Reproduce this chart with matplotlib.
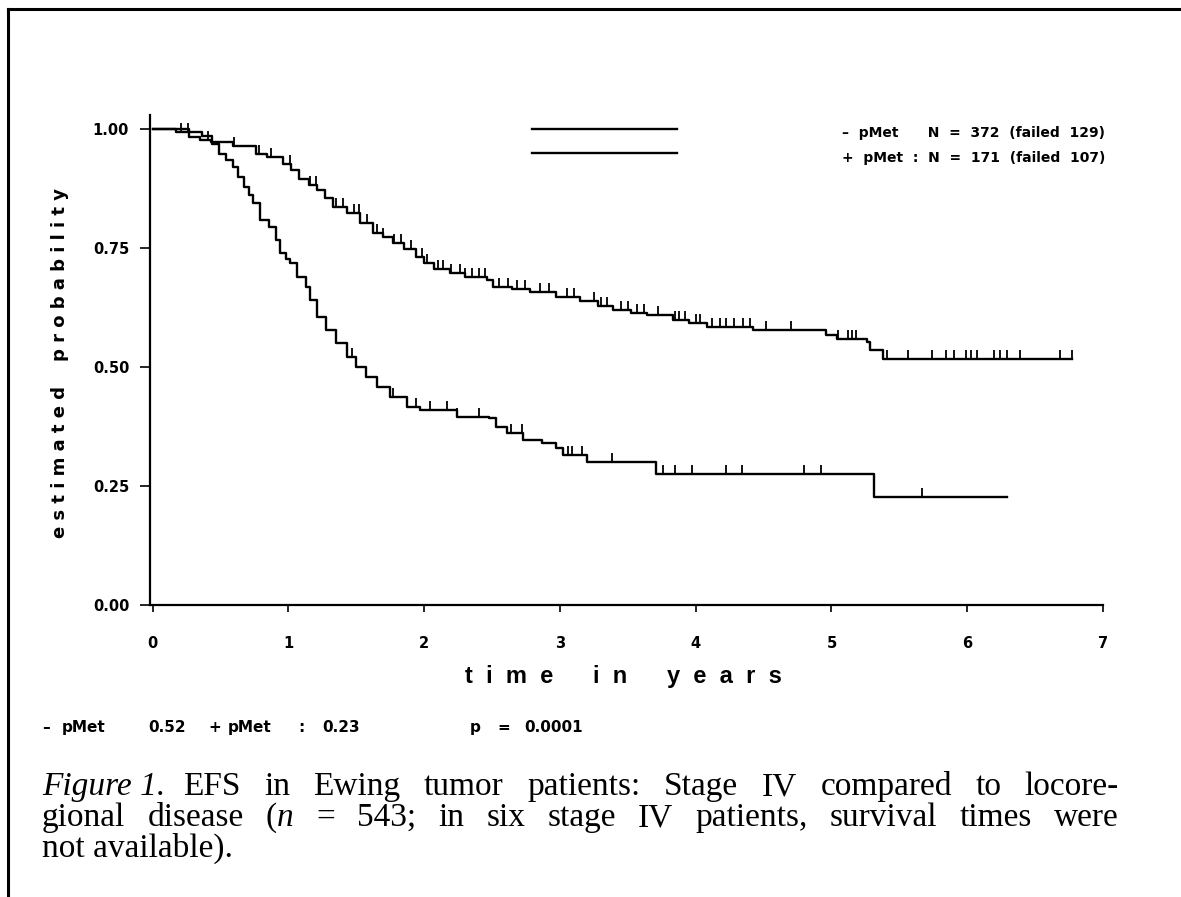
import numpy as np
import matplotlib
matplotlib.use("Agg")
import matplotlib.pyplot as plt
from matplotlib.lines import Line2D
from matplotlib.path import Path

# Kaplan-Meier step data
neg_t = [0, 0.17, 0.27, 0.35, 0.43, 0.59, 0.76, 0.84, 0.96, 1.02, 1.08, 1.15, 1.21, 1.27,
         1.33, 1.43, 1.53, 1.62, 1.70, 1.77, 1.85, 1.94, 2.00, 2.07, 2.19, 2.30, 2.46, 2.51,
         2.65, 2.78, 2.97, 3.15, 3.28, 3.39, 3.52, 3.64, 3.83, 3.95, 4.08, 4.42, 4.96, 5.04,
         5.26, 5.28, 5.38, 6.77]
neg_s = [1.0, 0.995, 0.984, 0.977, 0.973, 0.965, 0.949, 0.942, 0.928, 0.914, 0.895, 0.882,
         0.872, 0.855, 0.837, 0.823, 0.802, 0.781, 0.774, 0.760, 0.748, 0.732, 0.718, 0.707,
         0.697, 0.690, 0.683, 0.669, 0.665, 0.658, 0.648, 0.638, 0.628, 0.620, 0.614, 0.609,
         0.599, 0.592, 0.585, 0.578, 0.567, 0.560, 0.553, 0.536, 0.518, 0.518]

pos_t = [0, 0.27, 0.36, 0.44, 0.49, 0.54, 0.59, 0.63, 0.67, 0.71, 0.74, 0.79, 0.86, 0.91,
         0.94, 0.98, 1.01, 1.06, 1.13, 1.16, 1.21, 1.28, 1.35, 1.43, 1.50, 1.57, 1.65, 1.75,
         1.87, 1.97, 2.24, 2.48, 2.53, 2.61, 2.73, 2.87, 2.97, 3.02, 3.20, 3.71, 5.31, 6.29]
pos_s = [1.0, 0.995, 0.985, 0.970, 0.949, 0.935, 0.921, 0.900, 0.879, 0.862, 0.844, 0.809,
         0.795, 0.767, 0.739, 0.728, 0.718, 0.690, 0.669, 0.641, 0.606, 0.578, 0.550, 0.522,
         0.501, 0.480, 0.459, 0.438, 0.417, 0.410, 0.396, 0.393, 0.375, 0.361, 0.347, 0.340,
         0.330, 0.315, 0.301, 0.275, 0.228, 0.228]

# censored observations (tick marks)
neg_cens = [0.21, 0.26, 0.41, 0.60, 0.78, 0.87, 1.01, 1.16, 1.20, 1.35, 1.40, 1.48, 1.52,
            1.58, 1.65, 1.70, 1.78, 1.83, 1.90, 1.98, 2.02, 2.10, 2.14, 2.20, 2.26, 2.30,
            2.35, 2.40, 2.45, 2.55, 2.62, 2.68, 2.74, 2.85, 2.92, 3.05, 3.10, 3.25, 3.30,
            3.35, 3.45, 3.50, 3.57, 3.62, 3.72, 3.85, 3.88, 3.92, 4.00, 4.03, 4.12, 4.18,
            4.22, 4.28, 4.35, 4.40, 4.52, 4.70, 5.05, 5.12, 5.15, 5.18, 5.41, 5.56, 5.74,
            5.84, 5.90, 5.99, 6.03, 6.07, 6.20, 6.24, 6.29, 6.39, 6.68, 6.77]
pos_cens = [0.49, 1.13, 1.47, 1.77, 1.94, 2.04, 2.17, 2.24, 2.40, 2.64, 2.72, 3.06, 3.09,
            3.16, 3.38, 3.76, 3.85, 3.97, 4.22, 4.34, 4.80, 4.92, 5.67]

legend_neg = "–  pMet      N  =  372  (failed  129)"
legend_pos = "+  pMet  :  N  =  171  (failed  107)"
tick_labels_y = ["0.00", "0.25", "0.50", "0.75", "1.00"]

# bottom summary line: (text, x pixel)
summary = [("–", 42), ("pMet", 62), ("0.52", 148), ("+", 208), ("pMet", 228), (":", 298),
           ("0.23", 322), ("p", 470), ("=", 497), ("0.0001", 524)]

# caption lines: each word is a list of (text, style) pieces
caption_lines = [
    [[("EFS", "normal")], [("in", "normal")], [("Ewing", "normal")], [("tumor", "normal")],
     [("patients:", "normal")], [("Stage", "normal")], [("IV", "normal")],
     [("compared", "normal")], [("to", "normal")], [("locore-", "normal")]],
    [[("gional", "normal")], [("disease", "normal")], [("(", "normal"), ("n", "italic")],
     [("=", "normal")], [("543;", "normal")], [("in", "normal")], [("six", "normal")],
     [("stage", "normal")], [("IV", "normal")], [("patients,", "normal")],
     [("survival", "normal")], [("times", "normal")], [("were", "normal")]],
]
caption_last = "not available)."


def surv_at(ts, ss, x):
    i = np.searchsorted(ts, x, side="right") - 1
    return np.array(ss)[i]


W, H = 1181, 897
fig = plt.figure(figsize=(W/100, H/100), dpi=100)
ax = fig.add_axes([150/W, 1-605/H, 953/W, 490/H])

ax.step(neg_t, neg_s, where="post", color="black", lw=1.7)
ax.step(pos_t, pos_s, where="post", color="black", lw=1.7)

up_tick = Path([[0, 0], [0, 1]])
ax.plot(neg_cens, surv_at(neg_t, neg_s, neg_cens), ls="none", marker=up_tick,
        ms=13, mew=1.3, color="black")
ax.plot(pos_cens, surv_at(pos_t, pos_s, pos_cens), ls="none", marker=up_tick,
        ms=13, mew=1.3, color="black")

ax.set_xlim(-0.02, 7.0)
ax.set_ylim(0, 1.03)
ax.set_xticks(range(0, 8))
ax.set_yticks([0, 0.25, 0.5, 0.75, 1.0])
ax.set_yticklabels(tick_labels_y)
for s in ["top", "right"]:
    ax.spines[s].set_visible(False)
ax.spines["left"].set_linewidth(1.6)
ax.spines["bottom"].set_linewidth(1.6)
ax.tick_params(axis="x", length=5, width=1.2, pad=17, labelsize=10.5)
ax.tick_params(axis="y", length=7, width=1.2, pad=8, labelsize=10.5)
for lab in ax.get_xticklabels() + ax.get_yticklabels():
    lab.set_fontweight("bold")

fig.text(623/W, 1-677/H, "t  i  m  e      i  n      y  e  a  r  s", family="Liberation Sans",
         fontsize=17, fontweight="bold", ha="center", va="center")
fig.text(60/W, 1-363/H, "e s t i m a t e d    p r o b a b i l i t y", rotation=90,
         fontsize=13, fontweight="bold", ha="center", va="center")

# legend: lines on the left, text on the right
ax.plot([0.401, 0.553], [0.971, 0.971], transform=ax.transAxes, color="black", lw=1.7)
ax.plot([0.401, 0.553], [0.922, 0.922], transform=ax.transAxes, color="black", lw=1.7)
ax.text(1.002, 0.963, legend_neg, transform=ax.transAxes, ha="right", va="center",
        fontsize=10, fontweight="bold")
ax.text(1.002, 0.912, legend_pos, transform=ax.transAxes, ha="right", va="center",
        fontsize=10, fontweight="bold")

for txt, xp in summary:
    fig.text(xp/W, 1-727/H, txt, fontsize=11, fontweight="bold", va="center")

# caption, justified between x0 and x1
cap = dict(family="Liberation Serif", fontsize=24, va="baseline")
fig.canvas.draw()
renderer = fig.canvas.get_renderer()


def width_of(txt, style):
    t = fig.text(0, 0, txt, style=style, **cap)
    w = t.get_window_extent(renderer).width
    t.remove()
    return w


def justify(words, x0, x1, y):
    widths = [sum(width_of(p, st) for p, st in w) for w in words]
    gap = (x1 - x0 - sum(widths)) / (len(words) - 1)
    x = x0
    for w, wd in zip(words, widths):
        xx = x
        for p, st in w:
            fig.text(xx/W, 1-y/H, p, style=st, **cap)
            xx += width_of(p, st)
        x += wd + gap


fig.text(42/W, 1-795/H, "Figure 1.", style="italic", **cap)
justify(caption_lines[0], 183, 1119, 795)
justify(caption_lines[1], 42, 1119, 826)
fig.text(42/W, 1-857/H, caption_last, **cap)

# page frame
fig.add_artist(Line2D([8/W, 8/W], [0, 1-9/H], color="black", lw=2.2))
fig.add_artist(Line2D([8/W, 1], [1-9/H, 1-9/H], color="black", lw=2.2))

fig.savefig("out.png", dpi=100)
